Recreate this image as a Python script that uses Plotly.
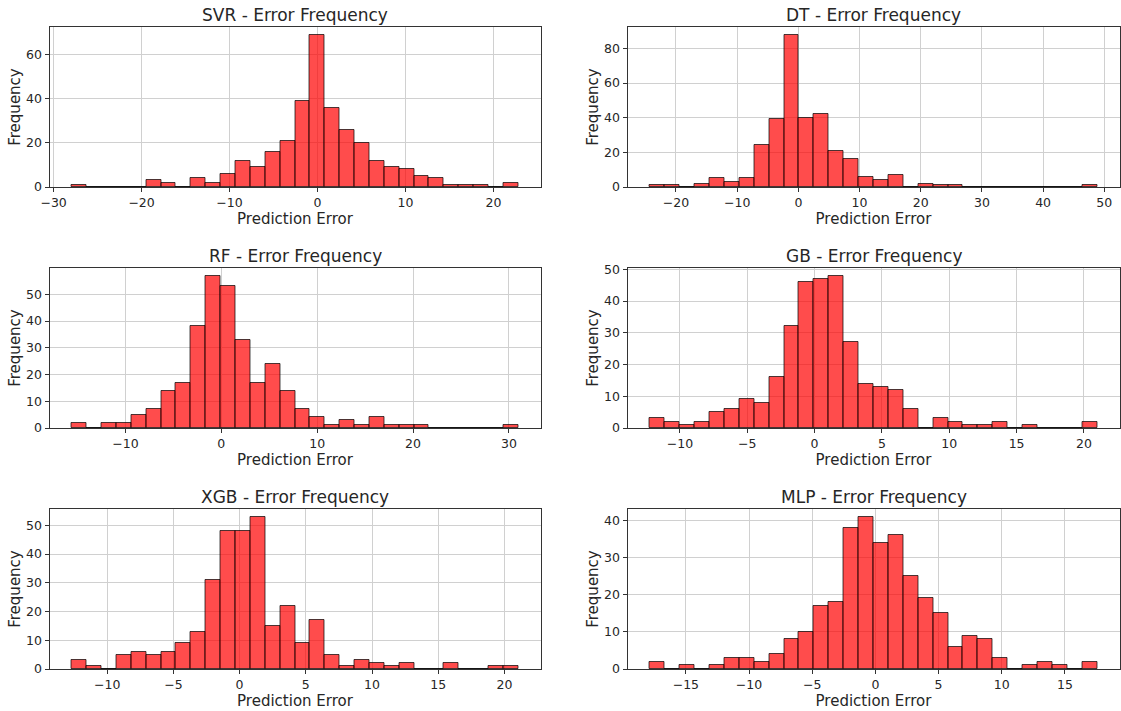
import plotly.graph_objects as go

# ---- data: 30-bin histograms of prediction errors (edges: first/last) ----
models = ["SVR", "DT", "RF", "GB", "XGB", "MLP"]

svr_edges = (-27.93, 22.82)
svr_counts = [1, 0, 0, 0, 0, 3, 2, 0, 4, 2, 6, 12, 9, 16, 21, 39, 69, 36, 26, 20,
              12, 9, 8, 5, 4, 1, 1, 1, 0, 2]

dt_edges = (-24.27, 48.83)
dt_counts = [1, 1, 0, 2, 5, 3, 5, 24, 39, 88, 40, 42, 21, 16, 6, 4, 7, 0, 2, 1,
             1, 0, 0, 0, 0, 0, 0, 0, 0, 1]

rf_edges = (-15.60, 30.97)
rf_counts = [2, 0, 2, 2, 5, 7, 14, 17, 38, 57, 53, 33, 17, 24, 14, 7, 4, 1, 3, 1,
             4, 1, 1, 1, 0, 0, 0, 0, 0, 1]

gb_edges = (-12.23, 20.98)
gb_counts = [3, 2, 1, 2, 5, 6, 9, 8, 16, 32, 46, 47, 48, 27, 14, 13, 12, 6, 0, 3,
             2, 1, 1, 2, 0, 1, 0, 0, 0, 2]

xgb_edges = (-12.67, 21.04)
xgb_counts = [3, 1, 0, 5, 6, 5, 6, 9, 13, 31, 48, 48, 53, 15, 22, 9, 17, 5, 1, 3,
              2, 1, 2, 0, 0, 2, 0, 0, 1, 1]

mlp_edges = (-17.85, 17.55)
mlp_counts = [2, 0, 1, 0, 1, 3, 3, 2, 4, 8, 10, 17, 18, 38, 41, 34, 36, 25, 19, 15,
              6, 9, 8, 3, 0, 1, 2, 1, 0, 2]

x_dticks = [10, 10, 10, 5, 5, 5]
y_dticks = [20, 20, 10, 10, 10, 10]

all_edges = [svr_edges, dt_edges, rf_edges, gb_edges, xgb_edges, mlp_edges]
all_counts = [svr_counts, dt_counts, rf_counts, gb_counts, xgb_counts, mlp_counts]

# ---- layout geometry (pixels) ----
W, H = 1121, 711
col_px = [(49.5, 540.5), (627.5, 1119.5)]
row_px = [(27.0, 187.0), (268.0, 428.0), (509.0, 669.0)]

FONT = "DejaVu Sans"
TXT = "#262626"
fig = go.Figure()
annotations = []

for k, (name, edges, counts) in enumerate(zip(models, all_edges, all_counts)):
    r, c = divmod(k, 2)
    lo, hi = edges
    n = len(counts)
    w = (hi - lo) / n
    centers = [lo + (i + 0.5) * w for i in range(n)]
    xa = "x" if k == 0 else f"x{k+1}"
    ya = "y" if k == 0 else f"y{k+1}"
    fig.add_trace(go.Bar(
        x=centers, y=counts, width=[w] * n,
        marker=dict(color="rgba(255,0,0,0.7)",
                    line=dict(color="rgba(0,0,0,0.7)", width=1)),
        xaxis=xa, yaxis=ya, showlegend=False, hoverinfo="x+y"))

    x0, x1 = col_px[c]
    y0, y1 = row_px[r]
    xd = [x0 / W, x1 / W]
    yd = [1 - y1 / H, 1 - y0 / H]
    span = hi - lo
    xr = [lo - 0.05 * span, hi + 0.05 * span]
    yr = [0, 1.05 * max(counts)]
    axis_common = dict(
        automargin=False,
        showline=True, linecolor="#333", linewidth=1, mirror=True,
        ticks="outside", ticklen=4, tickcolor="#333", tickwidth=1,
        showgrid=True, gridcolor="#d0d0d0", gridwidth=1,
        zeroline=False, tickfont=dict(family=FONT, size=12.5, color=TXT),
    )
    xkey = "xaxis" if k == 0 else f"xaxis{k+1}"
    ykey = "yaxis" if k == 0 else f"yaxis{k+1}"
    fig.layout[xkey] = dict(
        domain=xd, anchor=ya, range=xr, tick0=0, dtick=x_dticks[k],
        title=dict(text="Prediction Error", standoff=0,
                   font=dict(family=FONT, size=15, color=TXT)),
        **axis_common)
    fig.layout[ykey] = dict(
        domain=yd, anchor=xa, range=yr, tick0=0, dtick=y_dticks[k],
        title=dict(text="Frequency", standoff=1,
                   font=dict(family=FONT, size=15, color=TXT)),
        **axis_common)
    annotations.append(dict(
        text=f"{name} - Error Frequency", xref="paper", yref="paper",
        x=(xd[0] + xd[1]) / 2, y=yd[1], xanchor="center", yanchor="bottom",
        showarrow=False, font=dict(family=FONT, size=17, color=TXT)))

fig.update_layout(
    width=W, height=H, margin=dict(l=0, r=0, t=0, b=0),
    paper_bgcolor="white", plot_bgcolor="white",
    bargap=0, annotations=annotations, showlegend=False,
    font=dict(family=FONT, color=TXT),
)

fig.write_html("out.html")
